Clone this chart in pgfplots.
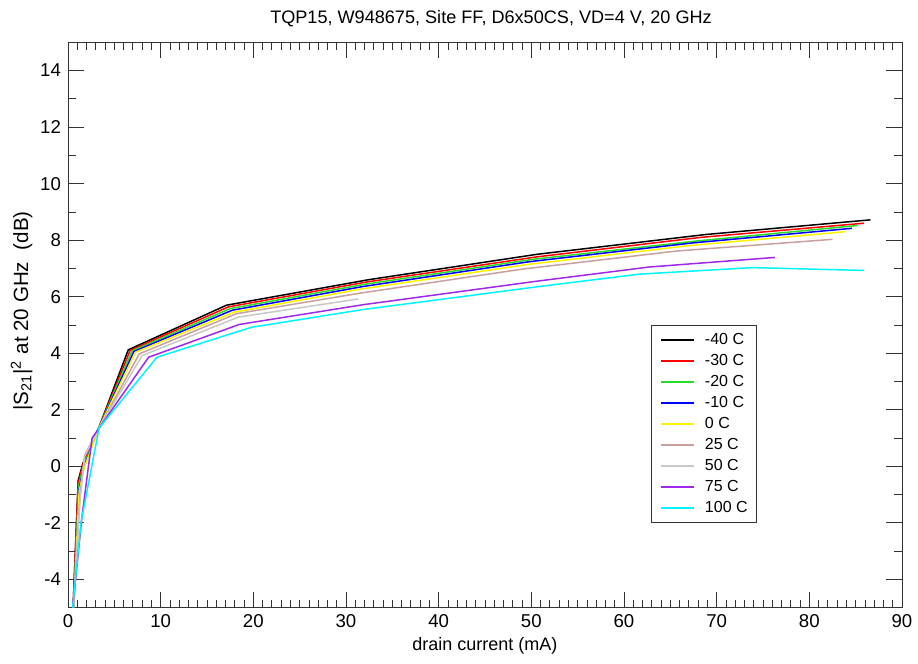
\documentclass[border=0pt]{standalone}
\usepackage{fontspec}
\setmainfont{Liberation Sans}
\usepackage{pgfplots}
\pgfplotsset{compat=1.18}

\definecolor{cgreen}{RGB}{40,220,40}
\definecolor{cbrown}{RGB}{200,160,160}
\definecolor{cgray}{RGB}{200,200,200}
\definecolor{cpurple}{RGB}{160,40,235}
\definecolor{cyanish}{RGB}{0,245,255}

\begin{document}
\begin{tikzpicture}
\begin{axis}[
    scale only axis,
    width=417pt, height=282.7pt,
    xmin=0, xmax=90, ymin=-5, ymax=15,
    xtick={0,10,...,90}, ytick={-4,-2,...,14},
    minor x tick num=9, minor y tick num=1,
    tick align=inside, tick pos=both,
    major tick length=8pt, minor tick length=4pt,
    axis line style={black!80}, every tick/.style={black!80},
    /pgf/number format/assume math mode=true,
    ticklabel style={font=\fontsize{9.3}{10}\selectfont},
    xlabel={drain current (mA)},
    ylabel={|S\textsubscript{21}|\textsuperscript{2} at 20 GHz~~(dB)},
    xlabel style={font=\fontsize{9}{10}\selectfont, yshift=2pt},
    ylabel style={font=\fontsize{10.3}{11}\selectfont, yshift=-3pt, xshift=7pt},
    title={TQP15, W948675, Site FF, D6x50CS, VD=4 V, 20 GHz},
    title style={font=\fontsize{9.05}{10}\selectfont, yshift=-2pt, xshift=3pt},
    clip=true,
    every axis plot/.append style={line width=0.75pt},
    legend cell align=left,
    legend style={at={(0.699,0.5)}, anchor=north west,
        draw=black!80, line width=0.5pt,
        font=\fontsize{8}{9}\selectfont,
        inner xsep=4.5pt, inner ysep=3.5pt,
        row sep=3pt,
        nodes={inner sep=0pt, text height=6pt, text depth=1.5pt}},
    legend image code/.code={\draw[#1, line width=0.75pt] (0pt,0pt) -- (16.5pt,0pt);},
]
\coordinate (sw) at (rel axis cs:0,0);
\coordinate (ne) at (rel axis cs:1,1);

\addplot[black] coordinates {
 (0.55,-5) (1.1,-0.5) (1.6,0.1) (3.25,1.3) (6.5,4.12) (17.1,5.70)
 (32.4,6.60) (50.6,7.50) (68.8,8.20) (86.6,8.72)};
\addlegendentry{\hspace{5pt}-40 C}
\addplot[red] coordinates {
 (0.55,-5) (1.1,-0.6) (1.6,0.05) (3.25,1.3) (6.7,4.10) (17.3,5.64)
 (32.2,6.52) (50.6,7.41) (68.3,8.10) (85.9,8.60)};
\addlegendentry{\hspace{5pt}-30 C}
\addplot[cgreen] coordinates {
 (0.6,-5) (1.15,-0.7) (1.65,0.0) (3.25,1.3) (6.9,4.08) (17.5,5.58)
 (32.0,6.44) (50.1,7.32) (67.8,7.97) (85.2,8.52)};
\addlegendentry{\hspace{5pt}-20 C}
\addplot[blue] coordinates {
 (0.6,-5) (1.2,-0.8) (1.7,-0.05) (3.25,1.3) (7.1,4.06) (17.7,5.52)
 (31.8,6.36) (49.8,7.24) (67.3,7.90) (84.6,8.42)};
\addlegendentry{\hspace{5pt}-10 C}
\addplot[yellow] coordinates {
 (0.6,-5) (1.2,-0.9) (1.7,-0.1) (3.25,1.3) (7.3,4.04) (17.9,5.45)
 (31.6,6.27) (49.6,7.14) (66.8,7.80) (83.9,8.30)};
\addlegendentry{\hspace{5pt}0 C}
\addplot[cbrown] coordinates {
 (0.6,-5) (1.3,-1.0) (1.8,0.4) (3.25,1.3) (7.7,3.98) (18.2,5.40)
 (31.4,6.12) (49.1,6.98) (65.8,7.62) (82.5,8.03)};
\addlegendentry{\hspace{5pt}25 C}
\addplot[cgray] coordinates {
 (0.6,-5) (1.3,-1.2) (1.8,0.35) (3.25,1.3) (8.0,3.92) (18.4,5.28)
 (31.3,5.92)};
\addlegendentry{\hspace{5pt}50 C}
\addplot[cpurple] coordinates {
 (0.5,-5) (1.5,-1.8) (2.6,1.0) (8.7,3.86) (18.5,5.02)
 (31.9,5.72) (50.6,6.55) (62.7,7.05) (76.3,7.39)};
\addlegendentry{\hspace{5pt}75 C}
\addplot[cyanish] coordinates {
 (0.5,-5) (1.4,-2.0) (3.35,1.35) (9.6,3.86) (19.8,4.92)
 (31.9,5.55) (50.6,6.35) (61.7,6.80) (73.9,7.03) (85.9,6.93)};
\addlegendentry{\hspace{5pt}100 C\hspace{5.5pt}}
\end{axis}
\pgfresetboundingbox
\path ([shift={(-34pt,-28.15pt)}]sw) rectangle ([shift={(8pt,21.15pt)}]ne);
\end{tikzpicture}
\end{document}
